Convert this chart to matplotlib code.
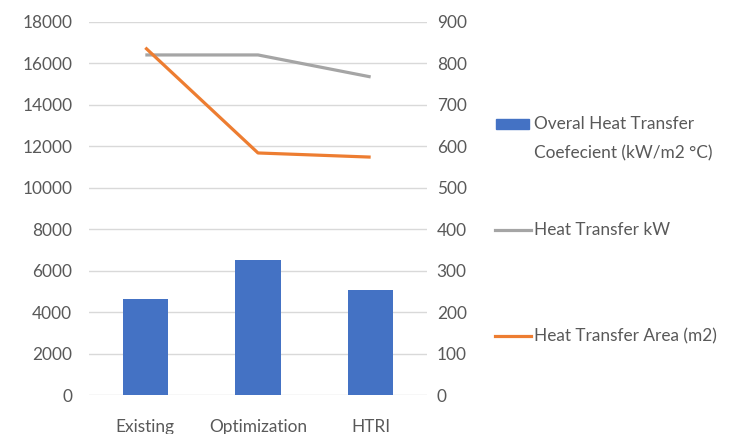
import numpy as np
import matplotlib.pyplot as plt
from matplotlib.patches import Rectangle
from matplotlib.lines import Line2D

plt.rcParams['font.family'] = ['Lato', 'DejaVu Sans']

# data
categories = ['Existing', 'Optimization', 'HTRI']
coef = [4620, 6530, 5080]            # Overal Heat Transfer Coefecient (bars, left axis)
heat_kw = [16410, 16410, 15350]      # Heat Transfer kW (left axis)
area_m2 = [838, 584, 574]            # Heat Transfer Area (right axis)

blue = '#4472c4'
gray = '#a5a5a5'
orange = '#ed7d31'
txt = '#595959'
grid = '#d9d9d9'
fs = 12.4

W, H = 734, 434
fig = plt.figure(figsize=(W / 100, H / 100), dpi=100)
ax = fig.add_axes([89 / W, 1 - 395 / H, (427 - 89) / W, (395 - 22) / H])
ax2 = ax.twinx()

x = np.arange(len(categories))
ax.bar(x, coef, width=0.4, color=blue, zorder=2)
ax.plot(x, heat_kw, color=gray, lw=2.3, zorder=3, solid_capstyle='butt')
ax2.plot(x, area_m2, color=orange, lw=2.3, zorder=3, solid_capstyle='butt')

ax.set_xlim(-0.5, 2.5)
ax.set_ylim(0, 18000)
ax.set_yticks(np.arange(0, 18001, 2000))
ax2.set_ylim(0, 900)
ax2.set_yticks(np.arange(0, 901, 100))
ax.set_xticks(x)
ax.set_xticklabels(categories)

ax.grid(axis='y', color=grid, lw=1, zorder=0)
ax.set_axisbelow(True)
for a in (ax, ax2):
    for s in a.spines.values():
        s.set_visible(False)
    a.tick_params(length=0, labelsize=fs, colors=txt)
ax.tick_params(axis='y', pad=12)
ax2.tick_params(axis='y', pad=7)
ax.tick_params(axis='x', pad=17)

# legend drawn on the right side
fig.patches.append(Rectangle((496 / W, 1 - 129 / H), 33 / W, 10 / H,
                             transform=fig.transFigure, color=blue))
fig.text(534 / W, 1 - 124 / H, 'Overal Heat Transfer', color=txt,
         fontsize=fs, va='center')
fig.text(534 / W, 1 - 153 / H, 'Coefecient (kW/m2 °C)', color=txt,
         fontsize=fs, va='center')
fig.lines.append(Line2D([495 / W, 531 / W], [1 - 230 / H, 1 - 230 / H],
                        transform=fig.transFigure, color=gray, lw=2.3))
fig.text(534 / W, 1 - 230 / H, 'Heat Transfer kW', color=txt,
         fontsize=fs, va='center')
fig.lines.append(Line2D([495 / W, 531 / W], [1 - 336 / H, 1 - 336 / H],
                        transform=fig.transFigure, color=orange, lw=2.3))
fig.text(534 / W, 1 - 336 / H, 'Heat Transfer Area (m2)', color=txt,
         fontsize=fs, va='center')

fig.savefig('out.png', dpi=100)
